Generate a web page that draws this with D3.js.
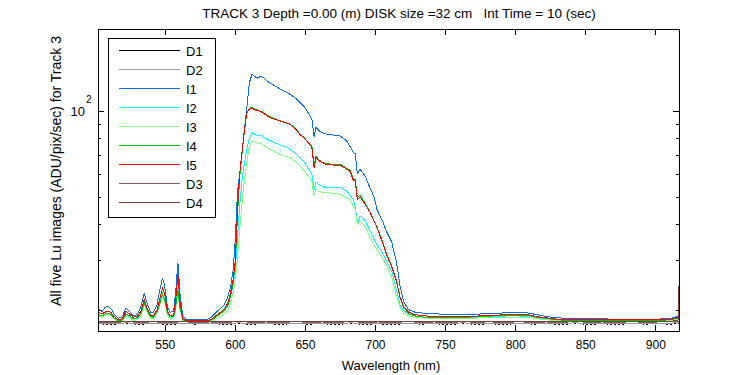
<!DOCTYPE html>
<html>
<head>
<meta charset="UTF-8">
<title>Track 3 Lu images</title>
<script src="https://d3js.org/d3.v7.min.js"></script>
<style>
  body { margin: 0; background: #fff; font-family: "Liberation Sans", Arial, sans-serif; }
  svg text { fill: #000; }
</style>
</head>
<body>
<svg width="750" height="375"></svg>
<script>
// wavelength grid (nm) shared by the five Lu image series
const wl = [502, 505, 507, 509.5, 511.5, 513.5, 516.5, 519.5, 522, 524.5, 527, 530, 532.5, 535, 537, 539.5,
  541.5, 544, 546, 548, 549.5, 551.5, 553.5, 556, 557.5, 559, 560.5, 562.5, 565, 570, 575, 580, 583, 586, 589,
  592, 594.5, 596.5, 598.5, 600, 601.5, 603, 604.5, 606, 608, 610, 612, 614, 616, 618, 620, 622.5, 626, 629,
  632, 636, 639, 643, 646, 649, 651, 653, 654.6, 656.2, 657.5, 659.5, 662, 665, 670, 675, 679.5, 682, 684,
  685.5, 687, 689, 692.5, 696, 699, 701, 704.5, 708, 711.5, 715, 717.5, 720, 723.5, 728, 735, 745, 755, 765,
  775, 785, 795, 802, 808, 815, 822, 830, 840, 855, 870, 885, 900, 910, 917];

const I1 = [20.4, 19.9, 20.6, 20.7, 20.3, 19.5, 18.8, 19.2, 20.5, 19.9, 19.2, 19.4, 20.6, 23.1, 21.2, 19.8,
  19.7, 20.9, 23.5, 26.1, 24.6, 20.6, 19.8, 19.9, 23.5, 29.5, 23.0, 19.2, 18.7, 18.6, 18.6, 18.7, 19.0, 19.7, 20.3,
  21.0, 22.3, 24.2, 28.0, 36.0, 52.0, 60.0, 70.0, 82.0, 101.0, 126.0, 135.0, 132.0, 130.5, 132.5, 131.0, 127.5, 124.5, 122.0,
  119.5, 117.0, 114.5, 111.0, 107.5, 104.0, 100.5, 97.0, 93.5, 81.0, 88.0, 85.5, 84.0, 83.0, 82.5, 81.8, 78.6, 75.0, 71.8,
  71.0, 60.5, 62.6, 59.3, 54.0, 50.0, 45.3, 41.8, 37.8, 34.9, 29.5, 24.4, 21.6, 20.2, 19.8, 19.6, 19.5, 19.4, 19.4,
  19.5, 19.6, 19.7, 19.8, 19.7, 19.4, 19.1, 18.9, 18.8, 18.8, 18.7, 18.7, 18.7, 18.8, 19.2];

const I2 = [19.5, 19.2, 19.5, 19.6, 19.4, 18.9, 18.4, 18.6, 19.4, 19.1, 18.7, 18.8, 19.4, 21.5, 20.0, 19.0,
  18.9, 19.8, 21.4, 23.0, 22.1, 19.6, 18.9, 19.0, 21.0, 24.0, 20.6, 18.6, 18.4, 18.3, 18.4, 18.4, 18.6, 19.1, 19.6,
  20.2, 21.0, 22.5, 24.8, 28.0, 36.0, 46.0, 56.0, 63.5, 73.0, 80.5, 84.0, 83.0, 82.0, 82.5, 81.0, 79.8, 78.3, 77.2,
  76.1, 75.0, 73.6, 71.0, 68.8, 66.3, 64.3, 62.0, 60.1, 53.2, 56.5, 55.4, 54.6, 54.0, 54.2, 54.0, 52.5, 50.7, 49.1,
  46.5, 40.3, 42.9, 41.5, 38.2, 35.5, 34.0, 32.3, 29.8, 27.6, 23.7, 21.0, 20.0, 19.5, 19.2, 19.0, 18.9, 18.9, 18.9,
  19.0, 19.1, 19.2, 19.2, 19.1, 18.9, 18.7, 18.6, 18.5, 18.5, 18.5, 18.5, 18.5, 18.6, 18.8];

const I3 = [19.2, 19.0, 19.3, 19.4, 19.2, 18.7, 18.3, 18.4, 19.2, 18.9, 18.5, 18.6, 19.2, 21.2, 19.8, 18.8,
  18.7, 19.5, 21.0, 22.4, 21.6, 19.3, 18.7, 18.8, 20.4, 23.2, 20.2, 18.4, 18.3, 18.2, 18.3, 18.3, 18.4, 18.8, 19.1,
  19.5, 20.0, 21.2, 23.2, 26.0, 30.5, 38.0, 46.0, 55.0, 65.0, 75.5, 78.6, 78.0, 77.0, 77.5, 76.0, 74.6, 73.0, 71.8,
  70.6, 69.6, 68.8, 66.5, 64.3, 62.0, 60.1, 58.5, 57.0, 50.4, 53.5, 52.3, 52.0, 51.8, 51.6, 51.1, 49.8, 49.1, 46.5,
  45.3, 40.1, 41.2, 39.5, 36.3, 34.0, 32.7, 31.0, 28.8, 26.3, 22.6, 20.6, 19.6, 19.2, 19.0, 18.9, 18.8, 18.8, 18.8,
  18.9, 19.0, 19.0, 19.0, 19.0, 18.8, 18.6, 18.5, 18.4, 18.4, 18.4, 18.4, 18.4, 18.5, 18.7];

const I4 = [19.4, 19.2, 19.5, 19.6, 19.4, 18.9, 18.5, 18.6, 19.5, 19.2, 18.8, 18.9, 19.5, 21.4, 20.1, 19.1,
  19.0, 19.8, 21.2, 22.8, 22.0, 19.7, 19.0, 19.1, 20.8, 23.7, 20.5, 18.7, 18.4, 18.4, 18.4, 18.4, 18.6, 19.0, 19.5,
  20.0, 20.8, 22.4, 25.2, 29.5, 43.0, 58.0, 69.0, 81.5, 97.5, 102.5, 103.0, 101.5, 101.0, 100.0, 99.0, 96.8, 95.0, 93.8,
  92.6, 91.3, 90.2, 86.8, 83.3, 80.8, 78.9, 77.0, 75.2, 64.5, 69.8, 67.5, 66.4, 65.5, 65.2, 65.1, 63.0, 62.0, 58.0,
  57.5, 50.0, 50.8, 47.6, 44.5, 41.2, 39.2, 35.6, 31.6, 28.7, 25.3, 22.2, 20.6, 19.6, 19.2, 19.0, 19.0, 19.0, 19.0,
  19.1, 19.2, 19.3, 19.3, 19.3, 19.0, 18.8, 18.6, 18.5, 18.5, 18.5, 18.5, 18.5, 18.6, 18.9];

const I5 = [19.8, 19.5, 19.8, 19.9, 19.7, 19.1, 18.6, 18.8, 19.9, 19.5, 19.0, 19.1, 19.9, 21.9, 20.5, 19.3,
  19.2, 20.1, 22.0, 24.0, 23.0, 20.0, 19.2, 19.3, 22.0, 26.8, 21.5, 18.8, 18.5, 18.5, 18.5, 18.5, 18.7, 19.2, 19.7,
  20.3, 21.2, 23.0, 26.0, 30.2, 45.0, 60.0, 70.0, 82.0, 98.0, 102.0, 102.5, 101.0, 100.5, 99.5, 98.5, 96.3, 94.5, 93.5,
  92.4, 91.0, 90.0, 86.5, 83.0, 80.5, 78.6, 76.5, 74.6, 63.4, 69.0, 67.0, 66.0, 65.1, 64.8, 64.6, 62.6, 61.5, 57.5,
  57.0, 49.1, 50.1, 47.3, 44.3, 41.2, 39.3, 35.2, 31.3, 28.6, 25.4, 22.4, 20.7, 19.8, 19.4, 19.2, 19.1, 19.1, 19.1,
  19.2, 19.3, 19.4, 19.4, 19.4, 19.1, 18.9, 18.7, 18.6, 18.6, 18.6, 18.6, 18.6, 18.7, 19.0];

// dark frames, coarser grid
const wlDark = [502, 512, 522, 532, 542, 552, 562, 572, 582, 592, 602, 612, 622, 632, 642, 652, 662, 672, 682,
  692, 702, 712, 722, 732, 742, 752, 762, 772, 782, 792, 802, 812, 822, 832, 842, 852, 862, 872, 882, 892, 902,
  910, 915, 916, 916.5, 917];
const D1 = [18.0, 17.96, 18.02, 17.97, 18.01, 17.95, 18.0, 17.98, 18.03, 17.96, 18.0, 17.97, 18.01, 17.95, 18.02,
  17.98, 18.0, 17.96, 18.01, 17.97, 18.0, 17.95, 18.02, 17.98, 18.0, 17.96, 18.01, 17.97, 18.0, 17.95, 18.02,
  17.98, 18.0, 17.96, 18.01, 17.97, 18.0, 17.95, 18.02, 17.98, 18.0, 17.97, 18.0, 18.01, 18.0, 18.0];
const D2 = [18.12, 18.08, 18.14, 18.1, 18.12, 18.07, 18.13, 18.1, 18.11, 18.08, 18.14, 18.1, 18.12, 18.07, 18.13,
  18.1, 18.11, 18.08, 18.14, 18.1, 18.12, 18.07, 18.13, 18.1, 18.11, 18.08, 18.14, 18.1, 18.12, 18.07, 18.13,
  18.1, 18.11, 18.08, 18.14, 18.1, 18.12, 18.07, 18.13, 18.1, 18.11, 18.12, 18.15, 18.14, 18.13, 18.13];
const D3 = [18.28, 18.24, 18.3, 18.26, 18.29, 18.23, 18.3, 18.25, 18.28, 18.24, 18.31, 18.26, 18.28, 18.23, 18.3,
  18.26, 18.28, 18.24, 18.31, 18.25, 18.28, 18.23, 18.3, 18.26, 18.28, 18.24, 18.3, 18.26, 18.29, 18.23, 18.3,
  18.25, 18.28, 18.24, 18.31, 18.26, 18.28, 18.23, 18.3, 18.26, 18.28, 18.3, 18.35, 18.4, 18.35, 18.35];
const D4 = [18.33, 18.3, 18.36, 18.31, 18.34, 18.29, 18.35, 18.31, 18.33, 18.3, 18.36, 18.32, 18.34, 18.29, 18.35,
  18.31, 18.33, 18.3, 18.36, 18.31, 18.34, 18.29, 18.35, 18.32, 18.33, 18.3, 18.35, 18.31, 18.34, 18.29, 18.36,
  18.31, 18.33, 18.3, 18.36, 18.32, 18.34, 18.29, 18.35, 18.31, 18.34, 18.38, 18.5, 18.6, 24.4, 18.6];

const names = ["D1", "D2", "I1", "I2", "I3", "I4", "I5", "D3", "D4"];
const colors = ["#000000", "#999999", "#0a6ee6", "#00ffff", "#80ff80", "#00c000", "#ff0000", "#806060", "#803c3c"];
const xTicks = [550, 600, 650, 700, 750, 800, 850, 900];
const yMinor = [20, 30, 40, 50, 60, 70, 80, 90];

const series = [
  { x: wlDark, y: D1 }, { x: wlDark, y: D2 },
  { x: wl, y: I1 }, { x: wl, y: I2 }, { x: wl, y: I3 }, { x: wl, y: I4 }, { x: wl, y: I5 },
  { x: wlDark, y: D3 }, { x: wlDark, y: D4 }
];

const L = 98, R = 679, T = 29, B = 331;
const svg = d3.select("svg");
const x = d3.scaleLinear().domain([502, 916.5]).range([L, R]);
const y = d3.scaleLog().domain([17.0, 194]).range([B, T]);

svg.append("defs").append("clipPath").attr("id", "clip")
  .append("rect").attr("x", L).attr("y", T).attr("width", R - L).attr("height", B - T);

const line = d3.line().x(d => x(d[0])).y(d => y(d[1]));
const g = svg.append("g").attr("clip-path", "url(#clip)");
series.forEach((s, i) => {
  g.append("path")
    .datum(s.x.map((v, k) => [v, s.y[k]]))
    .attr("fill", "none")
    .attr("stroke", colors[i])
    .attr("stroke-width", 1)
    .attr("shape-rendering", "crispEdges")
    .attr("stroke-dasharray", i === 0 ? "2,2" : null)
    .attr("d", line);
});

// axes box with inward ticks
const ax = svg.append("g").attr("shape-rendering", "crispEdges");
ax.append("rect").attr("x", L).attr("y", T).attr("width", R - L).attr("height", B - T)
  .attr("fill", "none").attr("stroke", "#000");
xTicks.forEach(t => {
  ax.append("line").attr("x1", x(t)).attr("x2", x(t)).attr("y1", B).attr("y2", B - 6).attr("stroke", "#000");
  ax.append("line").attr("x1", x(t)).attr("x2", x(t)).attr("y1", T).attr("y2", T + 6).attr("stroke", "#000");
  svg.append("text").attr("x", x(t)).attr("y", 349).attr("text-anchor", "middle")
    .attr("font-size", "12px").text(t);
});
yMinor.forEach(t => {
  ax.append("line").attr("x1", L).attr("x2", L + 3).attr("y1", y(t)).attr("y2", y(t)).attr("stroke", "#000");
  ax.append("line").attr("x1", R).attr("x2", R - 3).attr("y1", y(t)).attr("y2", y(t)).attr("stroke", "#000");
});
ax.append("line").attr("x1", L).attr("x2", L + 6).attr("y1", y(100)).attr("y2", y(100)).attr("stroke", "#000");
ax.append("line").attr("x1", R).attr("x2", R - 6).attr("y1", y(100)).attr("y2", y(100)).attr("stroke", "#000");

svg.append("text").attr("x", 85).attr("y", y(100) + 5).attr("text-anchor", "end").attr("font-size", "13px").text("10");
svg.append("text").attr("x", 86).attr("y", y(100) - 8).attr("font-size", "10px").text("2");

// titles
svg.append("text").attr("x", 399).attr("y", 18).attr("text-anchor", "middle").attr("font-size", "13.5px")
  .style("white-space", "pre")
  .text("TRACK 3 Depth =0.00 (m) DISK size =32 cm   Int Time = 10 (sec)");
svg.append("text").attr("x", 391).attr("y", 370).attr("text-anchor", "middle").attr("font-size", "13px")
  .text("Wavelength (nm)");
svg.append("text").attr("transform", `translate(61,171) rotate(-90)`)
  .attr("text-anchor", "middle").attr("font-size", "14px")
  .text("All five Lu images (ADU/pix/sec) for Track 3");

// legend
const lg = svg.append("g").attr("shape-rendering", "crispEdges");
lg.append("rect").attr("x", 108).attr("y", 38).attr("width", 107).attr("height", 179)
  .attr("fill", "#fff").attr("stroke", "#000");
names.forEach((n, i) => {
  const yy = 50.5 + i * 19;
  lg.append("line").attr("x1", 119).attr("x2", 180).attr("y1", yy).attr("y2", yy)
    .attr("stroke", colors[i]).attr("stroke-width", 1);
  lg.append("text").attr("x", 186).attr("y", yy + 5).attr("font-size", "13px").text(n);
});
</script>
</body>
</html>
